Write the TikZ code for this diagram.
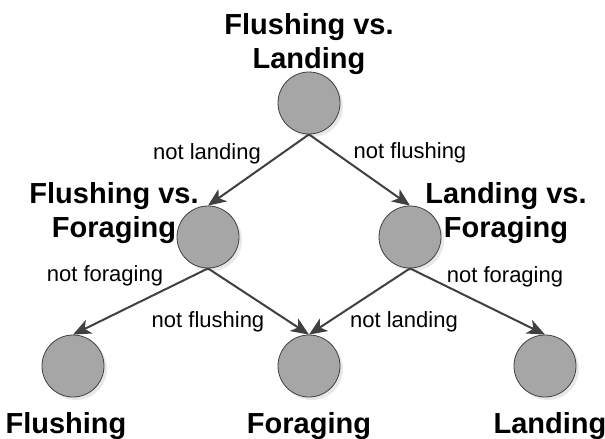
\documentclass[tikz,border=0pt]{standalone}
\usepackage{fontspec}
\setmainfont{Liberation Sans}
\usetikzlibrary{arrows.meta,shadows}
\definecolor{nodegray}{HTML}{A6A6A6}
\definecolor{edgegray}{HTML}{404040}
\begin{document}
\begin{tikzpicture}[x=1pt,y=-1pt,
  state/.style={circle,draw=edgegray,line width=0.8pt,fill=nodegray,
    minimum size=62pt,inner sep=0pt,
    drop shadow={opacity=0.18,shadow xshift=3pt,shadow yshift=-3pt}},
  title/.style={font=\bfseries\fontsize{29}{34}\selectfont,align=center,anchor=base,inner sep=0pt},
  elabel/.style={font=\fontsize{22}{26}\selectfont,anchor=base,inner sep=0pt},
  link/.style={draw=edgegray,line width=2pt,
    -{Stealth[length=18pt,width=15pt,inset=5pt]}}]
\useasboundingbox (0,0) rectangle (605,439);

% decision nodes
\node[state] (root) at (309,103) {};
\node[state] (fvf)  at (208,237) {};
\node[state] (lvf)  at (410,237) {};
\node[state] (fl)   at (73,366) {};
\node[state] (fo)   at (309,366) {};
\node[state] (la)   at (545,366) {};

% node titles (anchored at the baseline of their last line)
\node[title] (troot) at (309,68)  {Flushing vs.\\Landing};
\node[title] (tfvf)  at (114,237) {Flushing vs.\\Foraging};
\node[title] (tlvf)  at (506,237) {Landing vs.\\Foraging};
\node[title] (tfl)   at (66,433)  {Flushing};
\node[title] (tfo)   at (309,433) {Foraging};
\node[title] (tla)   at (550,433) {Landing};

% branches
\draw[link] (root.south) -- (fvf.north);
\draw[link] (root.south) -- (lvf.north);
\draw[link] (fvf.south) -- (fl.north);
\draw[link] (fvf.south) -- (fo.north);
\draw[link] (lvf.south) -- (fo.north);
\draw[link] (lvf.south) -- (la.north);

% branch labels
\node[elabel] (e1) at (207,159) {not landing};
\node[elabel] (e2) at (410,158) {not flushing};
\node[elabel] (e3) at (105,281) {not foraging};
\node[elabel] (e4) at (208,327) {not flushing};
\node[elabel] (e5) at (404,327) {not landing};
\node[elabel] (e6) at (505,282) {not foraging};
\end{tikzpicture}
\end{document}
